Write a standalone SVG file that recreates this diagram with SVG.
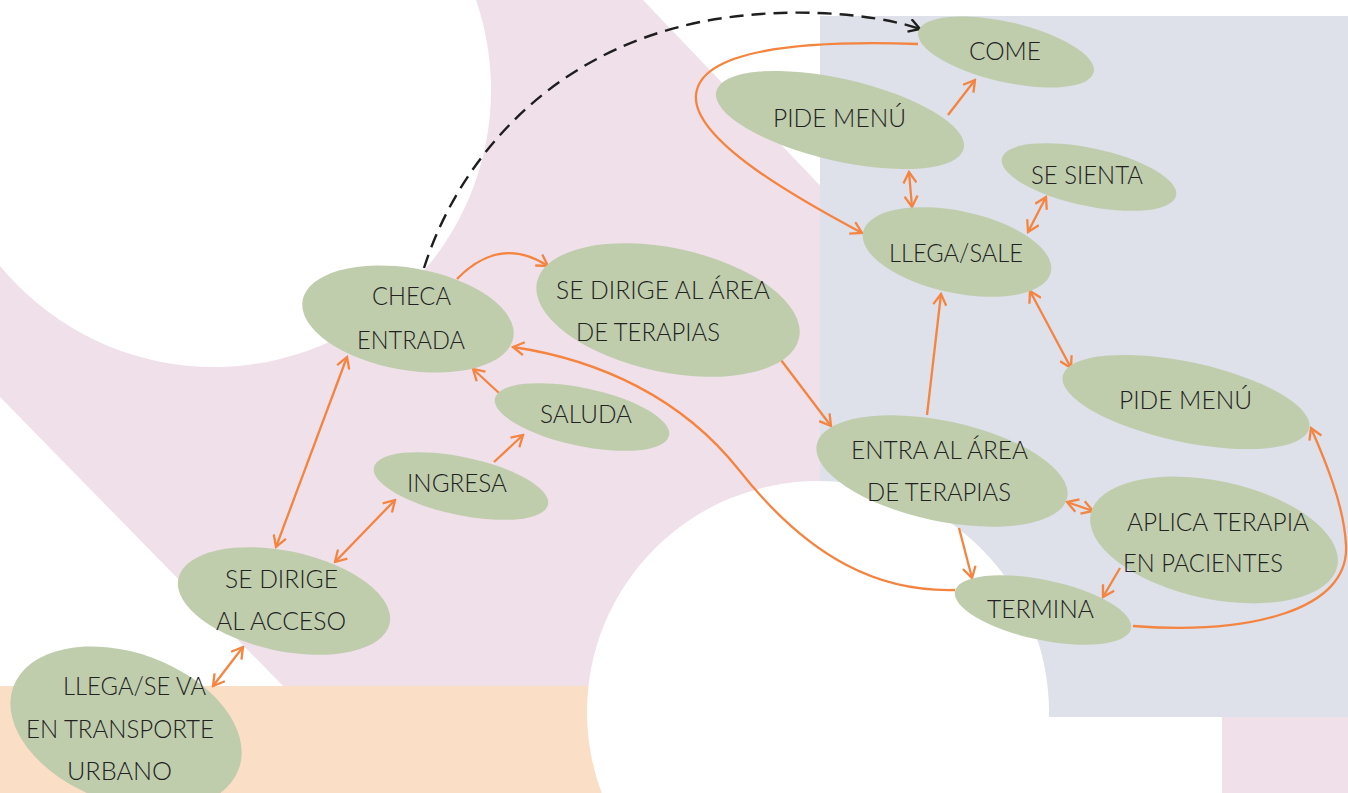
<svg xmlns="http://www.w3.org/2000/svg" width="1348" height="793" viewBox="0 0 1348 793">
<style>
.node ellipse{fill:#BFCDAD}
.node text{font-family:Lato,"Open Sans","Liberation Sans",sans-serif;font-weight:300;font-size:26px;fill:#222222;text-anchor:middle}
.c{fill:none;stroke:#F4843F;stroke-width:2.3}
.d{fill:none;stroke:#1E1E1E;stroke-width:2.4;stroke-dasharray:14 8}
</style>
<defs>
<marker id="ao" viewBox="0 0 15 15" refX="13" refY="7.5" markerWidth="15" markerHeight="15" markerUnits="userSpaceOnUse" orient="auto-start-reverse">
<path d="M2,1 L13,7.5 L2,14" fill="none" stroke="#F4843F" stroke-width="2.3"/>
</marker>
<marker id="ab" viewBox="0 0 15 15" refX="13" refY="7.5" markerWidth="15" markerHeight="15" markerUnits="userSpaceOnUse" orient="auto">
<path d="M2,1 L13,7.5 L2,14" fill="none" stroke="#1E1E1E" stroke-width="2.4"/>
</marker>
</defs>
<g id="background">
<rect x="0" y="0" width="1348" height="793" fill="#FFFFFF"/>
<path d="M0,0 L643,0 L830,196 L830,793 L0,793 Z" fill="#F0E0EA"/>
<path d="M0,397 L285,688 L0,688 Z" fill="#FFFFFF"/>
<rect x="0" y="686" width="620" height="107" fill="#FADEC6"/>
<rect x="820" y="16" width="528" height="701" fill="#DEE0EA"/>
<path d="M1222,717 L1348,717 L1348,793 L1215,793 Q1217,750 1222,717 Z" fill="#F0E0EA"/>
<circle cx="214" cy="90" r="277" fill="#FFFFFF"/>
<circle cx="818" cy="712" r="231" fill="#FFFFFF"/>
<rect x="818" y="717" width="404" height="76" fill="#FFFFFF"/>
</g>
<g id="connectors">
<path class="d" d="M424,268 C455,170 540,55 700,22 C780,6 870,12 920,29" marker-end="url(#ab)"/>
<path class="c" d="M457,279 Q500,235 548,266" marker-end="url(#ao)"/>
<path class="c" d="M781,360 L831,426" marker-end="url(#ao)"/>
<path class="c" d="M927,415 L941,294" marker-end="url(#ao)"/>
<path class="c" d="M1030,291 L1071,368" marker-start="url(#ao)" marker-end="url(#ao)"/>
<path class="c" d="M1028,232 L1046,197" marker-start="url(#ao)" marker-end="url(#ao)"/>
<path class="c" d="M909,172 L912,207" marker-start="url(#ao)" marker-end="url(#ao)"/>
<path class="c" d="M948,115 L975,80" marker-end="url(#ao)"/>
<path class="c" d="M918,44 C800,40 700,50 696,95 C692,140 800,200 862,233" marker-end="url(#ao)"/>
<path class="c" d="M955,590 C880,592 810,560 739,470 C682,398 600,360 513,347" marker-end="url(#ao)"/>
<path class="c" d="M959,528 L972,578" marker-end="url(#ao)"/>
<path class="c" d="M1067,502 L1093,511" marker-start="url(#ao)" marker-end="url(#ao)"/>
<path class="c" d="M1120,568 L1103,597" marker-end="url(#ao)"/>
<path class="c" d="M1133,626 C1250,635 1350,610 1346,545 C1344,505 1325,460 1311,428" marker-end="url(#ao)"/>
<path class="c" d="M347,357 L276,547" marker-start="url(#ao)" marker-end="url(#ao)"/>
<path class="c" d="M335,562 L395,500" marker-start="url(#ao)" marker-end="url(#ao)"/>
<path class="c" d="M494,462 L523,435" marker-end="url(#ao)"/>
<path class="c" d="M499,393 L473,369" marker-end="url(#ao)"/>
<path class="c" d="M213,686 L243,647" marker-start="url(#ao)" marker-end="url(#ao)"/>
</g>
<g id="come" class="node"><ellipse cx="1006" cy="52" rx="90" ry="30" transform="rotate(13 1006 52)"/><text x="1005" y="60" textLength="72" lengthAdjust="spacingAndGlyphs">COME</text></g>
<g id="pide-menu-1" class="node"><ellipse cx="840" cy="120" rx="127" ry="41" transform="rotate(13 840 120)"/><text x="839.5" y="127" textLength="133" lengthAdjust="spacingAndGlyphs">PIDE MENÚ</text></g>
<g id="se-sienta" class="node"><ellipse cx="1089" cy="177" rx="89" ry="29" transform="rotate(12 1089 177)"/><text x="1087" y="184" textLength="112" lengthAdjust="spacingAndGlyphs">SE SIENTA</text></g>
<g id="llega-sale" class="node"><ellipse cx="957" cy="252" rx="96" ry="41" transform="rotate(12 957 252)"/><text x="956" y="262" textLength="134" lengthAdjust="spacingAndGlyphs">LLEGA/SALE</text></g>
<g id="checa-entrada" class="node"><ellipse cx="408" cy="319" rx="107" ry="51" transform="rotate(10 408 319)"/><text x="411.5" y="305" textLength="79" lengthAdjust="spacingAndGlyphs">CHECA</text><text x="411" y="349" textLength="108" lengthAdjust="spacingAndGlyphs">ENTRADA</text></g>
<g id="se-dirige-area" class="node"><ellipse cx="668" cy="310" rx="134" ry="62" transform="rotate(12 668 310)"/><text x="663" y="299" textLength="214" lengthAdjust="spacingAndGlyphs">SE DIRIGE AL ÁREA</text><text x="648" y="341" textLength="144" lengthAdjust="spacingAndGlyphs">DE TERAPIAS</text></g>
<g id="saluda" class="node"><ellipse cx="582" cy="417" rx="89" ry="29" transform="rotate(12 582 417)"/><text x="586" y="423" textLength="92" lengthAdjust="spacingAndGlyphs">SALUDA</text></g>
<g id="ingresa" class="node"><ellipse cx="461" cy="486" rx="89" ry="29" transform="rotate(12 461 486)"/><text x="457" y="492" textLength="100" lengthAdjust="spacingAndGlyphs">INGRESA</text></g>
<g id="se-dirige-acceso" class="node"><ellipse cx="284" cy="601" rx="108" ry="50" transform="rotate(12 284 601)"/><text x="281.5" y="588" textLength="113" lengthAdjust="spacingAndGlyphs">SE DIRIGE</text><text x="281" y="630" textLength="130" lengthAdjust="spacingAndGlyphs">AL ACCESO</text></g>
<g id="llega-se-va" class="node"><ellipse cx="126" cy="728" rx="120" ry="75" transform="rotate(20 126 728)"/><text x="134.5" y="695" textLength="143" lengthAdjust="spacingAndGlyphs">LLEGA/SE VA</text><text x="120" y="738" textLength="188" lengthAdjust="spacingAndGlyphs">EN TRANSPORTE</text><text x="119.5" y="780" textLength="105" lengthAdjust="spacingAndGlyphs">URBANO</text></g>
<g id="entra-area" class="node"><ellipse cx="942" cy="471" rx="128" ry="50" transform="rotate(12 942 471)"/><text x="939.5" y="459" textLength="177" lengthAdjust="spacingAndGlyphs">ENTRA AL ÁREA</text><text x="939" y="501" textLength="144" lengthAdjust="spacingAndGlyphs">DE TERAPIAS</text></g>
<g id="pide-menu-2" class="node"><ellipse cx="1186" cy="402" rx="126" ry="40" transform="rotate(12 1186 402)"/><text x="1185.5" y="409" textLength="133" lengthAdjust="spacingAndGlyphs">PIDE MENÚ</text></g>
<g id="aplica-terapia" class="node"><ellipse cx="1214" cy="540" rx="126" ry="59" transform="rotate(12 1214 540)"/><text x="1218" y="531" textLength="182" lengthAdjust="spacingAndGlyphs">APLICA TERAPIA</text><text x="1203" y="572" textLength="160" lengthAdjust="spacingAndGlyphs">EN PACIENTES</text></g>
<g id="termina" class="node"><ellipse cx="1043" cy="610" rx="90" ry="30" transform="rotate(12 1043 610)"/><text x="1040.5" y="618" textLength="107" lengthAdjust="spacingAndGlyphs">TERMINA</text></g>
</svg>
